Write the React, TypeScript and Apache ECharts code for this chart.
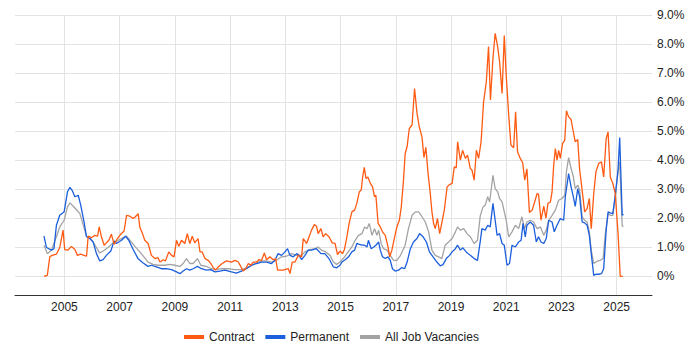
import React, { useEffect, useRef } from "react";
import * as echarts from "echarts";

const yearTicks = [2005, 2007, 2009, 2011, 2013, 2015, 2017, 2019, 2021, 2023, 2025];
const percentTicks = [0, 1, 2, 3, 4, 5, 6, 7, 8, 9];
const seriesNames = ["Contract", "Permanent", "All Job Vacancies"];

const contract: [number, number][] = [
  [2004.26, 0.0], [2004.38, 0.03], [2004.47, 0.67], [2004.55, 0.72], [2004.71, 0.76], [2004.83, 0.99], [2004.95, 1.59],
  [2005.01, 0.92], [2005.13, 0.9], [2005.25, 1.03], [2005.38, 0.92], [2005.47, 0.72], [2005.59, 0.76], [2005.71, 0.72],
  [2005.8, 0.69], [2005.86, 1.38], [2005.98, 1.33], [2006.1, 1.41], [2006.2, 1.38], [2006.26, 1.7], [2006.34, 1.36],
  [2006.44, 1.07], [2006.52, 1.15], [2006.61, 1.24], [2006.7, 1.45], [2006.8, 1.1], [2006.92, 1.3], [2007.04, 1.45],
  [2007.16, 1.56], [2007.25, 2.1], [2007.37, 2.07], [2007.49, 1.99], [2007.57, 2.05], [2007.67, 2.16], [2007.73, 1.7],
  [2007.85, 1.41], [2007.91, 1.24], [2008.03, 1.13], [2008.15, 0.72], [2008.28, 0.61], [2008.39, 0.64], [2008.46, 0.49],
  [2008.58, 0.57], [2008.66, 0.53], [2008.78, 0.84], [2008.88, 0.72], [2008.97, 0.67], [2009.06, 1.24], [2009.14, 1.03],
  [2009.24, 1.24], [2009.36, 1.13], [2009.45, 1.47], [2009.54, 1.13], [2009.63, 1.38], [2009.72, 1.15], [2009.84, 1.3],
  [2009.91, 0.84], [2009.99, 0.84], [2010.09, 0.61], [2010.21, 0.55], [2010.3, 0.44], [2010.39, 0.3], [2010.47, 0.21],
  [2010.57, 0.32], [2010.71, 0.44], [2010.87, 0.53], [2011.05, 0.49], [2011.17, 0.55], [2011.29, 0.5], [2011.41, 0.3],
  [2011.47, 0.18], [2011.56, 0.26], [2011.66, 0.44], [2011.75, 0.38], [2011.84, 0.49], [2011.96, 0.49], [2012.04, 0.57],
  [2012.14, 0.55], [2012.24, 0.8], [2012.32, 0.57], [2012.44, 0.67], [2012.56, 0.57], [2012.65, 0.61], [2012.72, 0.21],
  [2012.92, 0.21], [2013.11, 0.26], [2013.17, 0.09], [2013.25, 0.49], [2013.35, 0.49], [2013.47, 0.72], [2013.59, 0.67],
  [2013.65, 1.3], [2013.77, 1.13], [2013.86, 1.36], [2013.95, 1.59], [2014.05, 1.78], [2014.13, 1.72], [2014.19, 1.47],
  [2014.29, 1.64], [2014.37, 1.36], [2014.46, 1.47], [2014.58, 1.36], [2014.7, 1.15], [2014.8, 1.13], [2014.89, 0.75],
  [2014.98, 0.87], [2015.07, 0.78], [2015.14, 0.92], [2015.23, 1.36], [2015.31, 1.82], [2015.41, 2.22], [2015.51, 2.28],
  [2015.59, 2.51], [2015.68, 2.91], [2015.75, 2.97], [2015.8, 3.42], [2015.86, 3.75], [2015.92, 3.37], [2015.99, 3.42],
  [2016.08, 3.2], [2016.16, 3.08], [2016.23, 2.74], [2016.28, 2.79], [2016.36, 1.82], [2016.44, 1.7], [2016.52, 1.53],
  [2016.62, 1.41], [2016.72, 1.01], [2016.78, 0.67], [2016.86, 0.9], [2016.96, 1.36], [2017.04, 1.7], [2017.13, 1.93],
  [2017.2, 2.39], [2017.28, 3.31], [2017.34, 4.23], [2017.41, 4.46], [2017.49, 5.09], [2017.59, 5.21], [2017.68, 6.47],
  [2017.77, 5.61], [2017.85, 5.15], [2017.95, 4.8], [2018.02, 4.09], [2018.09, 4.44], [2018.17, 3.54], [2018.25, 2.85],
  [2018.31, 2.22], [2018.37, 1.82], [2018.43, 1.64], [2018.51, 1.99], [2018.59, 1.47], [2018.67, 1.85], [2018.76, 2.3],
  [2018.86, 3.08], [2018.95, 3.16], [2019.04, 3.2], [2019.12, 3.77], [2019.19, 3.73], [2019.24, 4.63], [2019.34, 4.0],
  [2019.42, 4.34], [2019.52, 4.06], [2019.6, 4.17], [2019.7, 3.71], [2019.76, 3.66], [2019.84, 3.31], [2019.92, 4.34],
  [2020.0, 4.06], [2020.09, 4.63], [2020.18, 6.01], [2020.28, 6.7], [2020.36, 7.91], [2020.43, 6.07], [2020.52, 7.51],
  [2020.6, 8.37], [2020.69, 7.91], [2020.76, 7.39], [2020.85, 6.3], [2020.93, 8.29], [2021.0, 6.93], [2021.09, 5.55],
  [2021.17, 4.52], [2021.27, 4.43], [2021.34, 5.67], [2021.41, 4.29], [2021.51, 4.06], [2021.6, 3.9], [2021.67, 3.31],
  [2021.75, 3.7], [2021.84, 2.2], [2021.94, 2.28], [2022.03, 2.56], [2022.12, 2.85], [2022.17, 2.83], [2022.26, 1.93],
  [2022.36, 2.42], [2022.44, 2.0], [2022.51, 2.51], [2022.6, 2.56], [2022.66, 2.91], [2022.72, 3.83], [2022.78, 4.4],
  [2022.84, 4.0], [2022.9, 4.34], [2022.96, 4.06], [2023.04, 4.57], [2023.12, 4.69], [2023.18, 5.7], [2023.26, 5.49],
  [2023.35, 5.4], [2023.42, 5.03], [2023.5, 4.63], [2023.59, 4.71], [2023.66, 3.66], [2023.75, 2.97], [2023.84, 2.22],
  [2023.93, 2.33], [2024.01, 2.68], [2024.08, 1.64], [2024.17, 2.85], [2024.25, 3.6], [2024.35, 3.89], [2024.45, 3.94],
  [2024.53, 3.42], [2024.62, 4.74], [2024.69, 4.97], [2024.77, 3.42], [2024.86, 3.2], [2024.95, 2.85], [2025.05, 1.47],
  [2025.13, 0.0], [2025.22, 0.0],
];

const permanent: [number, number][] = [
  [2004.26, 1.38], [2004.35, 0.99], [2004.53, 0.9], [2004.62, 0.95], [2004.71, 1.76], [2004.83, 2.1], [2004.99, 2.22],
  [2005.11, 2.91], [2005.2, 3.06], [2005.29, 2.94], [2005.38, 2.74], [2005.5, 2.79], [2005.59, 2.45], [2005.71, 1.87],
  [2005.8, 1.36], [2005.92, 1.3], [2006.04, 1.18], [2006.16, 0.78], [2006.28, 0.53], [2006.4, 0.57], [2006.52, 0.72],
  [2006.68, 0.87], [2006.8, 1.22], [2006.88, 1.13], [2007.07, 1.24], [2007.21, 1.38], [2007.33, 1.24], [2007.49, 0.92],
  [2007.67, 0.6], [2007.85, 0.46], [2008.03, 0.34], [2008.15, 0.38], [2008.33, 0.32], [2008.51, 0.26], [2008.7, 0.26],
  [2008.88, 0.23], [2009.06, 0.15], [2009.18, 0.09], [2009.3, 0.18], [2009.42, 0.26], [2009.54, 0.21], [2009.66, 0.26],
  [2009.82, 0.34], [2009.96, 0.26], [2010.14, 0.21], [2010.3, 0.23], [2010.45, 0.15], [2010.63, 0.18], [2010.81, 0.21],
  [2011.05, 0.15], [2011.23, 0.11], [2011.41, 0.18], [2011.59, 0.26], [2011.78, 0.38], [2011.96, 0.44], [2012.14, 0.49],
  [2012.32, 0.49], [2012.5, 0.44], [2012.62, 0.55], [2012.74, 0.78], [2012.86, 0.72], [2012.99, 0.84], [2013.08, 0.95],
  [2013.17, 0.72], [2013.29, 0.67], [2013.41, 0.78], [2013.5, 0.72], [2013.59, 0.57], [2013.71, 0.72], [2013.83, 0.9],
  [2013.95, 0.9], [2014.13, 0.95], [2014.29, 0.78], [2014.43, 0.78], [2014.58, 0.61], [2014.74, 0.32], [2014.86, 0.29],
  [2014.98, 0.38], [2015.05, 0.49], [2015.17, 0.57], [2015.29, 0.67], [2015.41, 0.84], [2015.51, 0.9], [2015.59, 1.13],
  [2015.68, 1.1], [2015.78, 1.07], [2015.87, 1.07], [2015.96, 1.01], [2016.01, 1.24], [2016.11, 0.95], [2016.2, 1.01],
  [2016.28, 1.07], [2016.38, 1.18], [2016.44, 0.9], [2016.52, 0.67], [2016.62, 0.61], [2016.72, 0.67], [2016.8, 0.55],
  [2016.88, 0.26], [2016.98, 0.18], [2017.1, 0.21], [2017.22, 0.3], [2017.32, 0.26], [2017.41, 0.49], [2017.53, 0.95],
  [2017.64, 1.18], [2017.77, 1.3], [2017.86, 1.47], [2017.99, 1.36], [2018.11, 1.18], [2018.22, 0.84], [2018.35, 0.67],
  [2018.49, 0.49], [2018.61, 0.36], [2018.71, 0.4], [2018.83, 0.61], [2018.95, 0.72], [2019.04, 0.84], [2019.16, 0.95],
  [2019.24, 1.07], [2019.34, 0.9], [2019.43, 0.98], [2019.55, 0.84], [2019.7, 0.72], [2019.84, 0.61], [2019.96, 0.55],
  [2020.06, 1.2], [2020.12, 1.64], [2020.24, 1.59], [2020.33, 1.76], [2020.42, 1.7], [2020.52, 2.51], [2020.6, 1.93],
  [2020.67, 1.41], [2020.76, 1.47], [2020.85, 1.13], [2020.93, 1.07], [2021.03, 0.38], [2021.12, 0.44], [2021.21, 1.07],
  [2021.33, 1.01], [2021.45, 1.18], [2021.54, 1.24], [2021.61, 1.82], [2021.69, 1.36], [2021.75, 1.76], [2021.87, 1.87],
  [2021.99, 1.76], [2022.09, 1.18], [2022.17, 1.36], [2022.26, 1.18], [2022.36, 1.13], [2022.45, 1.3], [2022.54, 1.93],
  [2022.66, 1.87], [2022.74, 1.53], [2022.84, 1.76], [2022.96, 1.99], [2023.08, 1.93], [2023.14, 2.74], [2023.2, 3.14],
  [2023.26, 3.54], [2023.35, 3.08], [2023.42, 2.79], [2023.5, 2.41], [2023.59, 3.02], [2023.66, 2.74], [2023.75, 1.87],
  [2023.84, 1.84], [2023.93, 1.76], [2024.01, 1.41], [2024.08, 0.78], [2024.17, 0.03], [2024.25, 0.07], [2024.35, 0.07],
  [2024.45, 0.09], [2024.53, 0.26], [2024.62, 1.59], [2024.69, 2.22], [2024.77, 2.18], [2024.86, 2.16], [2024.95, 2.79],
  [2025.05, 3.66], [2025.11, 4.78], [2025.2, 2.1], [2025.25, 2.13],
];

const allJobs: [number, number][] = [
  [2004.26, 1.07], [2004.38, 0.78], [2004.53, 0.9], [2004.71, 1.36], [2004.83, 1.7], [2004.99, 1.93], [2005.11, 2.39],
  [2005.2, 2.53], [2005.32, 2.41], [2005.43, 2.3], [2005.56, 2.16], [2005.68, 1.76], [2005.8, 1.38], [2005.92, 1.32],
  [2006.04, 1.18], [2006.16, 0.99], [2006.28, 0.8], [2006.4, 0.87], [2006.58, 0.99], [2006.76, 1.15], [2006.95, 1.24],
  [2007.13, 1.33], [2007.25, 1.38], [2007.37, 1.24], [2007.55, 1.03], [2007.73, 0.84], [2007.85, 0.7], [2008.03, 0.49],
  [2008.21, 0.41], [2008.39, 0.38], [2008.64, 0.38], [2008.82, 0.41], [2009.0, 0.38], [2009.18, 0.34], [2009.3, 0.44],
  [2009.42, 0.61], [2009.54, 0.44], [2009.66, 0.44], [2009.82, 0.61], [2009.94, 0.38], [2010.14, 0.34], [2010.33, 0.26],
  [2010.51, 0.23], [2010.69, 0.26], [2010.93, 0.26], [2011.17, 0.23], [2011.41, 0.23], [2011.54, 0.26], [2011.78, 0.38],
  [2011.96, 0.46], [2012.14, 0.53], [2012.32, 0.53], [2012.5, 0.49], [2012.68, 0.55], [2012.86, 0.67], [2013.04, 0.69],
  [2013.22, 0.78], [2013.41, 0.72], [2013.59, 0.72], [2013.71, 0.84], [2013.89, 0.92], [2014.07, 0.95], [2014.19, 1.01],
  [2014.31, 0.9], [2014.46, 0.84], [2014.62, 0.72], [2014.74, 0.49], [2014.86, 0.41], [2014.98, 0.49], [2015.1, 0.61],
  [2015.23, 0.78], [2015.41, 1.01], [2015.53, 1.24], [2015.65, 1.41], [2015.78, 1.47], [2015.87, 1.7], [2015.96, 1.64],
  [2016.04, 1.82], [2016.14, 1.41], [2016.23, 1.64], [2016.32, 1.41], [2016.38, 1.59], [2016.47, 1.13], [2016.56, 0.95],
  [2016.68, 0.9], [2016.8, 0.72], [2016.92, 0.55], [2017.04, 0.55], [2017.16, 0.7], [2017.34, 1.07], [2017.46, 1.64],
  [2017.59, 2.1], [2017.71, 2.22], [2017.83, 2.22], [2017.95, 2.05], [2018.07, 1.87], [2018.19, 1.53], [2018.31, 0.9],
  [2018.43, 0.72], [2018.55, 0.67], [2018.67, 0.61], [2018.79, 1.07], [2018.91, 1.18], [2019.04, 1.3], [2019.16, 1.53],
  [2019.24, 1.7], [2019.34, 1.59], [2019.46, 1.64], [2019.58, 1.47], [2019.7, 1.36], [2019.84, 1.13], [2019.96, 1.24],
  [2020.06, 2.08], [2020.16, 2.39], [2020.24, 2.45], [2020.33, 2.74], [2020.4, 2.56], [2020.52, 3.48], [2020.6, 3.02],
  [2020.69, 2.91], [2020.76, 2.68], [2020.85, 2.56], [2020.93, 2.22], [2021.0, 1.93], [2021.09, 1.36], [2021.21, 1.53],
  [2021.33, 1.76], [2021.45, 1.64], [2021.57, 2.05], [2021.66, 1.64], [2021.75, 1.87], [2021.87, 1.93], [2021.99, 1.87],
  [2022.12, 1.64], [2022.24, 1.7], [2022.36, 1.41], [2022.45, 1.59], [2022.54, 1.93], [2022.66, 2.1], [2022.78, 2.28],
  [2022.9, 2.62], [2023.02, 2.68], [2023.12, 2.79], [2023.18, 3.6], [2023.26, 4.09], [2023.35, 3.71], [2023.42, 3.48],
  [2023.5, 3.02], [2023.59, 3.14], [2023.66, 2.97], [2023.75, 2.05], [2023.84, 1.93], [2023.93, 1.87], [2024.01, 1.53],
  [2024.08, 0.9], [2024.17, 0.44], [2024.29, 0.52], [2024.41, 0.55], [2024.51, 0.61], [2024.59, 1.47], [2024.69, 2.16],
  [2024.77, 2.1], [2024.86, 2.1], [2024.95, 2.74], [2025.05, 3.6], [2025.11, 3.94], [2025.2, 1.73], [2025.25, 1.72],
];

const colors = ["#ff5a12", "#1b5fdc", "#a3a3a3"];

export default function App() {
  const ref = useRef<HTMLDivElement>(null);
  useEffect(() => {
    document.body.style.margin = "0";
    const chart = echarts.init(ref.current!, null, { renderer: "svg" });
    const font = "'Liberation Sans', Arial, sans-serif";
    const datasets = [contract, permanent, allJobs];
    chart.setOption({
      animation: false,
      textStyle: { fontFamily: font },
      color: colors,
      grid: { left: 15, right: 48, top: 15, bottom: 55, containLabel: false },
      legend: {
        data: seriesNames,
        left: 179,
        top: 326,
        icon: "rect",
        itemWidth: 20,
        itemHeight: 4,
        itemGap: 11,
        textStyle: { fontSize: 12, color: "#222", fontFamily: font },
      },
      xAxis: {
        type: "value",
        min: 2003.21,
        max: 2026.28,
        axisLine: { show: true, onZero: false, lineStyle: { color: "#333", width: 1 } },
        axisTick: { show: false, customValues: yearTicks },
        axisLabel: {
          customValues: yearTicks,
          formatter: (v: number) => String(Math.round(v)),
          color: "#222",
          fontSize: 12,
          margin: 6,
          fontFamily: font,
        },
        splitLine: { show: true, lineStyle: { color: "#e3e3e3", width: 1 } },
      },
      yAxis: {
        type: "value",
        position: "right",
        min: -0.645,
        max: 9,
        axisLine: { show: false },
        axisTick: { show: false, customValues: percentTicks },
        axisLabel: {
          customValues: percentTicks,
          formatter: (v: number) => (Math.abs(v) < 1e-9 ? "0%" : v.toFixed(1) + "%"),
          color: "#222",
          fontSize: 12,
          margin: 5,
          align: "left",
          fontFamily: font,
        },
        splitLine: { show: true, lineStyle: { color: "#e3e3e3", width: 1 } },
      },
      series: seriesNames.map((name, i) => ({
        name,
        type: "line",
        data: datasets[i],
        showSymbol: false,
        symbol: "none",
        lineStyle: { width: 1.3, color: colors[i] },
        itemStyle: { color: colors[i] },
        z: 3 - i,
      })),
    });
    return () => chart.dispose();
  }, []);
  return <div ref={ref} style={{ width: 700, height: 350 }} />;
}
